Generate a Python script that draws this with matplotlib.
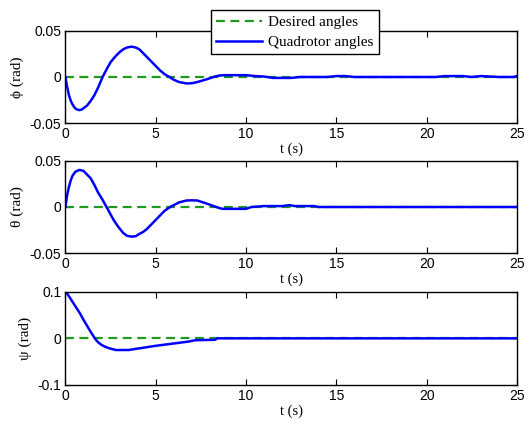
import matplotlib.pyplot as plt
import numpy as np

# phi (roll) response
t_phi = [0, 0.1, 0.2, 0.3, 0.4, 0.5, 0.6, 0.77, 0.9, 1.0, 1.2, 1.4, 1.6, 1.8, 2.06,
         2.3, 2.5, 2.75, 3.0, 3.2, 3.4, 3.66, 3.9, 4.1, 4.3, 4.5, 4.75, 5.0, 5.25,
         5.5, 5.8, 6.0, 6.3, 6.7, 7.0, 7.3, 7.6, 7.9, 8.2, 8.5, 8.8, 9.5, 10.0, 10.5,
         11.0, 11.5, 12.5, 13.0, 14.5, 15.0, 15.5, 16.0, 20.5, 21.0, 22.0, 22.5, 23.0,
         23.5, 24.0, 24.8, 25.0]
phi = [0, -0.011, -0.02, -0.026, -0.03, -0.033, -0.035, -0.036, -0.0355, -0.034, -0.031,
       -0.026, -0.02, -0.012, 0, 0.009, 0.016, 0.022, 0.027, 0.030, 0.032, 0.033, 0.032,
       0.030, 0.026, 0.022, 0.017, 0.012, 0.007, 0.003, -0.0005, -0.003, -0.0055,
       -0.007, -0.0068, -0.0055, -0.0038, -0.002, 0, 0.0015, 0.002, 0.002, 0.002,
       0.001, 0.0005, -0.001, -0.001, 0, 0, 0.001, 0.001, 0, 0, 0.001, 0.001, 0,
       0.001, 0.0005, 0, 0, 0.001]

# theta (pitch) response
t_theta = [0, 0.1, 0.2, 0.3, 0.4, 0.55, 0.77, 0.9, 1.0, 1.2, 1.4, 1.6, 1.8, 2.05, 2.28,
           2.5, 2.7, 2.95, 3.2, 3.4, 3.66, 3.9, 4.1, 4.3, 4.5, 4.75, 5.0, 5.25, 5.5,
           5.8, 6.0, 6.3, 6.7, 7.0, 7.3, 7.7, 8.0, 8.2, 8.5, 8.7, 9.0, 10.0, 10.3,
           11.0, 12.0, 12.4, 12.7, 13.8, 14.0, 25.0]
theta = [0, 0.013, 0.022, 0.029, 0.034, 0.038, 0.04, 0.0395, 0.039, 0.035, 0.031, 0.024,
         0.016, 0.008, 0, -0.008, -0.015, -0.022, -0.028, -0.031, -0.032, -0.0315,
         -0.029, -0.027, -0.024, -0.019, -0.014, -0.009, -0.004, 0, 0.002, 0.005,
         0.007, 0.0072, 0.007, 0.0045, 0.0025, 0.001, -0.001, -0.002, -0.002, -0.002,
         0, 0.001, 0.001, 0.002, 0.001, 0.001, 0, 0]

# psi (yaw) response
t_psi = [0, 0.15, 0.3, 0.55, 0.8, 1.0, 1.2, 1.4, 1.63, 1.8, 2.0, 2.2, 2.4, 2.6, 2.8,
         3.5, 4.0, 5.0, 6.0, 6.8, 7.2, 8.3, 8.4, 25.0]
psi = [0.1, 0.093, 0.084, 0.069, 0.054, 0.04, 0.027, 0.014, 0, -0.008, -0.014, -0.018,
       -0.021, -0.023, -0.025, -0.025, -0.022, -0.016, -0.011, -0.007, -0.004, -0.003,
       0, 0]

t_des = [0, 25]
des = [0, 0]

ylabels = ['ϕ (rad)', 'θ (rad)', 'ψ (rad)']
ylims = [(-0.05, 0.05), (-0.05, 0.05), (-0.1, 0.1)]
yticks = [[-0.05, 0, 0.05], [-0.05, 0, 0.05], [-0.1, 0, 0.1]]
yticklabels = [['-0.05', '0', '0.05'], ['-0.05', '0', '0.05'], ['-0.1', '0', '0.1']]

serif = ['Liberation Serif', 'DejaVu Serif']
plt.rcParams['font.family'] = ['Liberation Sans', 'DejaVu Sans']
plt.rcParams['font.size'] = 10

fig = plt.figure(figsize=(5.29, 4.24), dpi=100)
rects = [[0.1236, 0.7099, 0.8536, 0.2170],
         [0.1236, 0.4026, 0.8536, 0.2184],
         [0.1236, 0.0920, 0.8536, 0.2200]]
series = [(t_phi, phi), (t_theta, theta), (t_psi, psi)]

for i in range(3):
    ax = fig.add_axes(rects[i])
    h1, = ax.plot(t_des, des, '--', color='#1f9a1f', lw=1.6, dashes=(4, 2.5),
                  label='Desired angles')
    h2, = ax.plot(series[i][0], series[i][1], color='#0000ff', lw=1.8,
                  label='Quadrotor angles')
    ax.set_xlim(0, 25)
    ax.set_ylim(*ylims[i])
    ax.set_xticks([0, 5, 10, 15, 20, 25])
    ax.set_yticks(yticks[i])
    ax.set_yticklabels(yticklabels[i])
    ax.tick_params(direction='in', top=True, right=True, length=4, pad=3)
    ax.set_xlabel('t (s)', family=serif, fontsize=10.5, labelpad=1)
    ax.set_ylabel(ylabels[i], family=serif, fontsize=11, labelpad=4)
    for s in ax.spines.values():
        s.set_linewidth(1.0)
    if i == 0:
        leg = fig.legend([h1, h2], ['Desired angles', 'Quadrotor angles'],
                         loc='upper left', bbox_to_anchor=(0.399, 0.976),
                         borderaxespad=0,
                         prop={'family': serif, 'size': 11}, fancybox=False,
                         framealpha=1, edgecolor='black', handlelength=3.0,
                         handletextpad=0.4, borderpad=0.35, labelspacing=0.4)
        leg.get_frame().set_linewidth(1.0)
        leg.set_zorder(10)

fig.savefig('out.png', dpi=100)
